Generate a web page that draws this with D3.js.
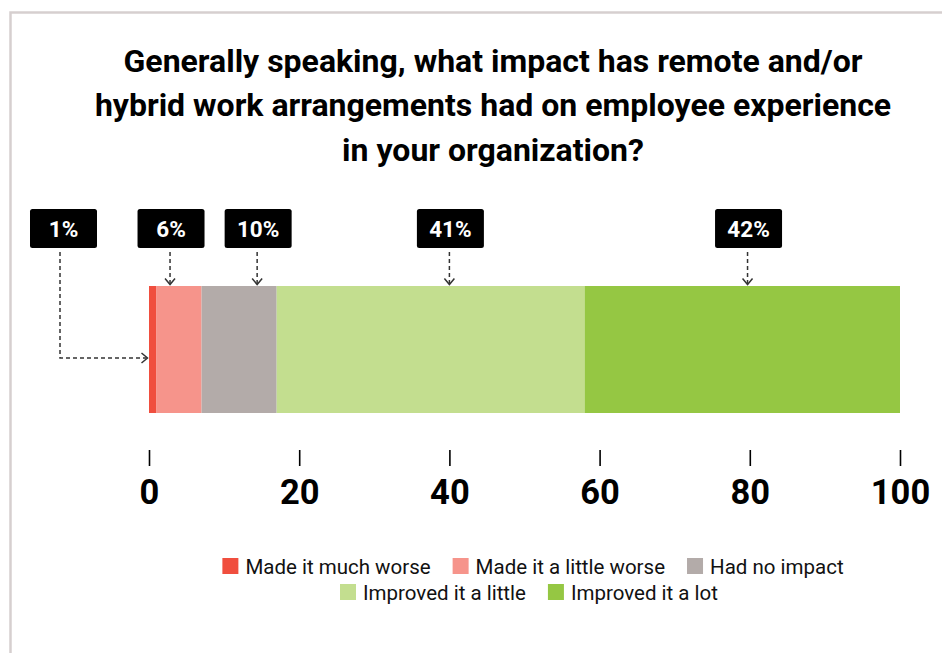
<!DOCTYPE html>
<html>
<head>
<meta charset="utf-8">
<script src="https://cdn.jsdelivr.net/npm/d3@7/dist/d3.min.js"></script>
<style>
  html, body { margin: 0; padding: 0; background: #fff; }
  svg { display: block; font-family: Roboto, "Noto Sans", sans-serif; }
</style>
</head>
<body>
<svg id="chart" width="942" height="653"></svg>
<script>
// Survey responses (% of respondents)
const categories = ["Made it much worse", "Made it a little worse", "Had no impact", "Improved it a little", "Improved it a lot"];
const values = [1, 6, 10, 41, 42];
const colors = ["#f04e3e", "#f6948b", "#b3aba9", "#c3de8f", "#95c743"];
const tickValues = [0, 20, 40, 60, 80, 100];
const titleLines = [
  "Generally speaking, what impact has remote and/or",
  "hybrid work arrangements had on employee experience",
  "in your organization?"
];
// Where each callout arrow lands along the value axis
const calloutAt = [0, 2.8, 14.4, 40, 79.7];

const svg = d3.select("#chart");

// frame
svg.append("rect")
  .attr("x", 10.5).attr("y", 12.5)
  .attr("width", 1000).attr("height", 700)
  .attr("fill", "none").attr("stroke", "#d6cfcf").attr("stroke-width", 2.5);

// title
svg.append("text")
  .attr("text-anchor", "middle")
  .attr("font-weight", 700).attr("font-size", 32).attr("fill", "#000")
  .selectAll("tspan").data(titleLines).join("tspan")
  .attr("x", 493).attr("y", (d, i) => 71.5 + i * 44.5)
  .text(d => d);

const x = d3.scaleLinear().domain([0, 100]).range([149, 900]);
const barTop = 286, barH = 127;

// stacked segments
let acc = 0;
const segs = values.map((v, i) => {
  const s = { i, v, x0: acc, x1: acc + v, cat: categories[i] };
  acc += v;
  return s;
});

svg.append("g").selectAll("rect").data(segs).join("rect")
  .attr("x", d => x(d.x0))
  .attr("y", barTop)
  .attr("width", d => x(d.x1) - x(d.x0))
  .attr("height", barH)
  .attr("fill", d => colors[d.i]);

// axis
const axis = d3.axisBottom(x).tickValues(tickValues).tickSize(16).tickPadding(14).tickFormat(d3.format("d"));
const ag = svg.append("g").attr("transform", "translate(0,450)").call(axis);
ag.select(".domain").remove();
ag.selectAll(".tick line").attr("stroke", "#000").attr("stroke-width", 1.6);
ag.selectAll(".tick text")
  .attr("fill", "#000").attr("font-family", "Roboto, sans-serif")
  .attr("font-weight", 700).attr("font-size", 34.5).attr("dy", "0.71em");

// callouts
const boxW = 67, boxH = 39, boxY = 209;
const callG = svg.append("g");
const dash = "4,3";
const lineColor = "#333";

segs.forEach((s, i) => {
  const ax = x(calloutAt[i]);
  const cx = i === 0 ? 63.5 : ax + 1;
  const g = callG.append("g");
  g.append("rect")
    .attr("x", cx - boxW / 2).attr("y", boxY)
    .attr("width", boxW).attr("height", boxH)
    .attr("rx", 2.5).attr("fill", "#000");
  g.append("text")
    .attr("x", cx).attr("y", boxY + 28)
    .attr("text-anchor", "middle")
    .attr("font-weight", 700).attr("font-size", 22.5).attr("fill", "#fff")
    .text(s.v + "%");

  if (i === 0) {
    const lx = 60, ly = 358, tipX = x(0) - 1.5;
    g.append("path")
      .attr("d", `M${lx},${boxY + boxH + 4}V${ly}H${tipX - 1}`)
      .attr("fill", "none").attr("stroke", lineColor)
      .attr("stroke-width", 1.5).attr("stroke-dasharray", dash);
    g.append("path")
      .attr("d", `M${tipX - 6},${ly - 5}L${tipX},${ly}L${tipX - 6},${ly + 5}`)
      .attr("fill", "none").attr("stroke", lineColor).attr("stroke-width", 1.5);
  } else {
    const tipY = barTop - 1.5;
    g.append("path")
      .attr("d", `M${ax},${boxY + boxH + 4}V${tipY - 1}`)
      .attr("fill", "none").attr("stroke", lineColor)
      .attr("stroke-width", 1.5).attr("stroke-dasharray", dash);
    g.append("path")
      .attr("d", `M${ax - 5},${tipY - 6}L${ax},${tipY}L${ax + 5},${tipY - 6}`)
      .attr("fill", "none").attr("stroke", lineColor).attr("stroke-width", 1.5);
  }
});

// legend, two centred rows
const legendRows = [[0, 1, 2], [3, 4]];
const legendY = [558, 584];
const legendCx = [533, 529];
const sw = 16, swGap = 7, itemGap = 22, lfs = 20.5;
legendRows.forEach((row, r) => {
  const g = svg.append("g");
  let cur = 0;
  row.forEach((ci, k) => {
    const item = g.append("g").attr("transform", `translate(${cur},0)`);
    item.append("rect").attr("x", 0).attr("y", legendY[r])
      .attr("width", sw).attr("height", sw).attr("fill", colors[ci]);
    const t = item.append("text")
      .attr("x", sw + swGap).attr("y", legendY[r] + sw)
      .attr("font-size", lfs).attr("fill", "#111")
      .text(categories[ci]);
    const w = t.node().getComputedTextLength();
    cur += sw + swGap + w + (k < row.length - 1 ? itemGap : 0);
  });
  g.attr("transform", `translate(${legendCx[r] - cur / 2},0)`);
});
</script>
</body>
</html>
